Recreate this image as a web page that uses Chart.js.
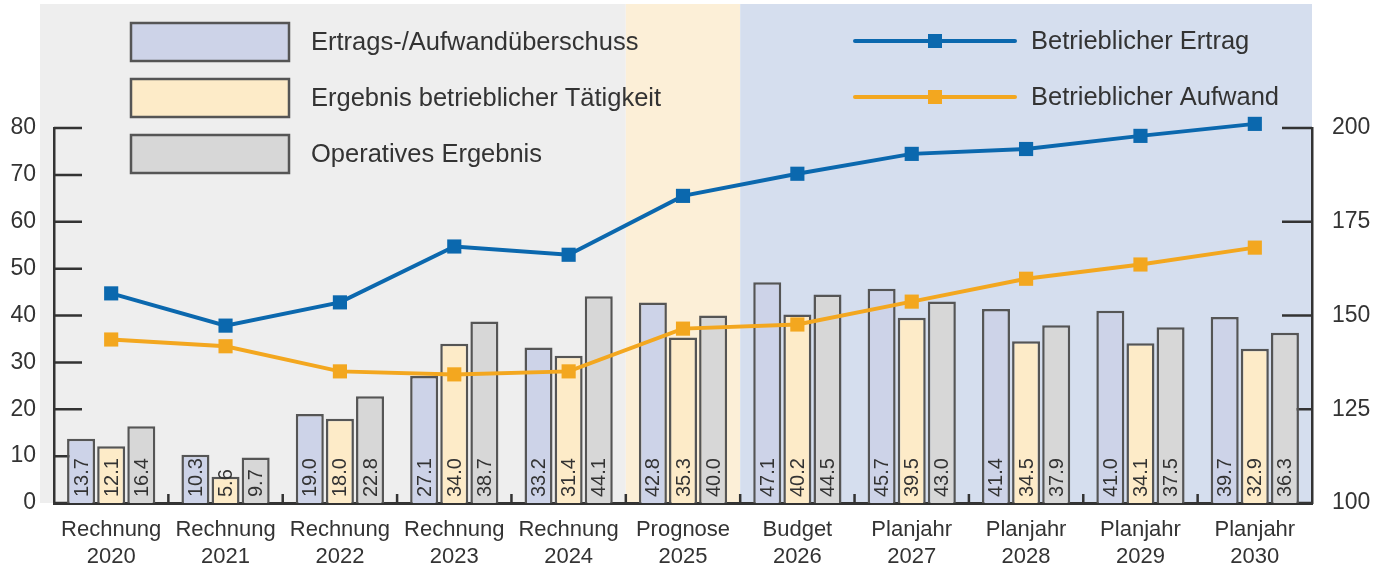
<!DOCTYPE html>
<html>
<head>
<meta charset="utf-8">
<script src="https://cdn.jsdelivr.net/npm/chart.js@4/dist/chart.umd.min.js"></script>
<style>
  html, body { margin: 0; padding: 0; background: #fff; }
  #wrap { width: 1390px; height: 571px; }
</style>
</head>
<body>
<div id="wrap"><canvas id="chart" width="1390" height="571"></canvas></div>
<script>
// Kategorien (x-Achse)
var KATEGORIEN = [
    ['Rechnung', '2020'], ['Rechnung', '2021'], ['Rechnung', '2022'],
    ['Rechnung', '2023'], ['Rechnung', '2024'], ['Prognose', '2025'],
    ['Budget', '2026'], ['Planjahr', '2027'], ['Planjahr', '2028'],
    ['Planjahr', '2029'], ['Planjahr', '2030']
]

// Balken (linke Achse)
var UEBERSCHUSS = [13.7, 10.3, 19.0, 27.1, 33.2, 42.8, 47.1, 45.7, 41.4, 41.0, 39.7]
var TAETIGKEIT  = [12.1, 5.6, 18.0, 34.0, 31.4, 35.3, 40.2, 39.5, 34.5, 34.1, 32.9]
var OPERATIV    = [16.4, 9.7, 22.8, 38.7, 44.1, 40.0, 44.5, 43.0, 37.9, 37.5, 36.3]

// Linien (rechte Achse)
var ERTRAG  = [155.9, 147.3, 153.5, 168.4, 166.2, 181.9, 187.8, 193.1, 194.4, 197.9, 201.1]
var AUFWAND = [143.6, 141.8, 135.1, 134.3, 135.1, 146.5, 147.6, 153.7, 159.8, 163.6, 168.1]

// Achsen-Ticks
var TICKS_LINKS  = [0, 10, 20, 30, 40, 50, 60, 70, 80]
var TICKS_RECHTS = [100, 125, 150, 175, 200]

var COLORES = {
    "bg_rechnung": "#eeeeee",
    "bg_prognose": "#fcefd7",
    "bg_plan": "#d5deee",
    "bar_blau": "#cdd3e8",
    "bar_gelb": "#fdebc8",
    "bar_grau": "#d7d7d7",
    "bar_rand": "#555555",
    "linie_blau": "#0b68ae",
    "linie_orange": "#f3a71f",
    "text": "#333333",
    "achse": "#333333",
}
var FONT = "'Liberation Sans', Arial, sans-serif"

// Hintergrund-Bereiche (vor den Achsen)
var hintergrund = {
    id: 'hintergrund',
    beforeDraw: function(chart){
        var ctx = chart.ctx
        var x = chart.scales.x
        var area = chart.chartArea
        var halb = (x.getPixelForValue(1) - x.getPixelForValue(0)) / 2
        var grenzeProg = x.getPixelForValue(5) - halb
        var grenzePlan = x.getPixelForValue(6) - halb
        ctx.save()
        ctx.fillStyle = COLORES["bg_rechnung"]
        ctx.fillRect(area.left - 14, 4, grenzeProg - area.left + 14, area.bottom - 4)
        ctx.fillStyle = COLORES["bg_prognose"]
        ctx.fillRect(grenzeProg, 4, grenzePlan - grenzeProg, area.bottom - 4)
        ctx.fillStyle = COLORES["bg_plan"]
        ctx.fillRect(grenzePlan, 4, area.right - grenzePlan, area.bottom - 4)
        ctx.restore()
    }
}

// Ticks nach innen (unter den Balken)
var innenTicks = {
    id: 'innenTicks',
    beforeDatasetsDraw: function(chart){
        var ctx = chart.ctx
        var x = chart.scales.x
        var area = chart.chartArea
        var halb = (x.getPixelForValue(1) - x.getPixelForValue(0)) / 2
        ctx.save()
        ctx.strokeStyle = COLORES["achse"]
        ctx.lineWidth = 2.5
        ctx.beginPath()
        TICKS_LINKS.forEach(function(v){
            var py = chart.scales.y.getPixelForValue(v)
            ctx.moveTo(area.left, py); ctx.lineTo(area.left + 28, py)
        })
        TICKS_RECHTS.forEach(function(v){
            var py = chart.scales.y1.getPixelForValue(v)
            ctx.moveTo(area.right, py); ctx.lineTo(area.right - 30, py)
        })
        for(var i = 1; i < KATEGORIEN.length; i++){
            var px = x.getPixelForValue(i) - halb
            ctx.moveTo(px, area.bottom); ctx.lineTo(px, area.bottom - 9)
        }
        ctx.stroke()
        ctx.restore()
    }
}

// Werte senkrecht in die Balken schreiben
var balkenWerte = {
    id: 'balkenWerte',
    afterDatasetDraw: function(chart, args){
        if(args.meta.type !== 'bar') return
        var ctx = chart.ctx
        var daten = chart.data.datasets[args.index].data
        ctx.save()
        ctx.font = "20px " + FONT
        ctx.fillStyle = COLORES["text"]
        ctx.textAlign = 'left'
        ctx.textBaseline = 'middle'
        args.meta.data.forEach(function(bar, i){
            ctx.save()
            ctx.translate(bar.x + 1, bar.base - 6)
            ctx.rotate(-Math.PI / 2)
            ctx.fillText(daten[i].toFixed(1), 0, 0)
            ctx.restore()
        })
        ctx.restore()
    }
}

// Legende oben (zwei Spalten)
var legende = {
    id: 'legende',
    afterDraw: function(chart){
        var ctx = chart.ctx
        var ds = chart.data.datasets
        ctx.save()
        ctx.font = "25.5px " + FONT
        ctx.textBaseline = 'middle'
        ctx.textAlign = 'left'
        for(var i = 0; i < 3; i++){
            var y0 = 23 + i * 56
            ctx.fillStyle = ds[i].backgroundColor
            ctx.fillRect(131, y0, 158, 38)
            ctx.strokeStyle = COLORES["bar_rand"]
            ctx.lineWidth = 2.5
            ctx.strokeRect(131, y0, 158, 38)
            ctx.fillStyle = COLORES["text"]
            ctx.fillText(ds[i].label, 311, y0 + 20)
        }
        for(var j = 0; j < 2; j++){
            var d = ds[3 + j]
            var yl = 41 + j * 56
            ctx.strokeStyle = d.borderColor
            ctx.lineWidth = 4
            ctx.lineCap = 'round'
            ctx.beginPath()
            ctx.moveTo(855, yl); ctx.lineTo(1015, yl)
            ctx.stroke()
            ctx.fillStyle = d.borderColor
            ctx.fillRect(935 - 7, yl - 7, 14, 14)
            ctx.fillStyle = COLORES["text"]
            ctx.fillText(d.label, 1031, yl + 1)
        }
        ctx.restore()
    }
}

function init_chart(){
    var balken = function(label, data, farbe){
        return {
            type: 'bar',
            label: label,
            data: data,
            yAxisID: 'y',
            backgroundColor: farbe,
            borderColor: COLORES["bar_rand"],
            borderWidth: 2.5,
            borderSkipped: 'bottom',
            categoryPercentage: 0.79,
            barPercentage: 0.93,
            order: 2,
        }
    }
    var linie = function(label, data, farbe){
        return {
            type: 'line',
            label: label,
            data: data,
            yAxisID: 'y1',
            borderColor: farbe,
            backgroundColor: farbe,
            borderWidth: 4,
            pointStyle: 'rect',
            pointRadius: 10,
            pointBorderWidth: 0,
            pointBackgroundColor: farbe,
            tension: 0,
            clip: false,
            order: 1,
        }
    }

    new Chart(document.getElementById('chart'), {
        data: {
            labels: KATEGORIEN,
            datasets: [
                balken('Ertrags-/Aufwandüberschuss', UEBERSCHUSS, COLORES["bar_blau"]),
                balken('Ergebnis betrieblicher Tätigkeit', TAETIGKEIT, COLORES["bar_gelb"]),
                balken('Operatives Ergebnis', OPERATIV, COLORES["bar_grau"]),
                linie('Betrieblicher Ertrag', ERTRAG, COLORES["linie_blau"]),
                linie('Betrieblicher Aufwand', AUFWAND, COLORES["linie_orange"]),
            ],
        },
        options: {
            responsive: false,
            animation: false,
            layout: { padding: { top: 128, left: 0, right: 0, bottom: 0 } },
            plugins: {
                legend: { display: false },
                tooltip: { enabled: false },
            },
            scales: {
                x: {
                    grid: { display: false, drawTicks: false },
                    border: { display: true, color: COLORES["achse"], width: 3 },
                    ticks: {
                        color: COLORES["text"],
                        font: { family: FONT, size: 22, lineHeight: 1.2 },
                        padding: 14,
                        maxRotation: 0,
                        autoSkip: false,
                    },
                    afterFit: function(s){ s.height = 68 },
                },
                y: {
                    position: 'left',
                    min: 0, max: 80,
                    grid: { display: false, drawTicks: false },
                    border: { display: true, color: COLORES["achse"], width: 2.5 },
                    ticks: {
                        stepSize: 10,
                        color: COLORES["text"],
                        font: { family: FONT, size: 23 },
                        padding: 18,
                    },
                    afterFit: function(s){ s.width = 54 },
                },
                y1: {
                    position: 'right',
                    min: 100, max: 200,
                    grid: { display: false, drawTicks: false },
                    border: { display: true, color: COLORES["achse"], width: 2.5 },
                    ticks: {
                        stepSize: 25,
                        color: COLORES["text"],
                        font: { family: FONT, size: 23 },
                        padding: 20,
                    },
                    afterFit: function(s){ s.width = 78 },
                },
            },
        },
        plugins: [hintergrund, innenTicks, balkenWerte, legende],
    })
}

init_chart()
</script>
</body>
</html>
